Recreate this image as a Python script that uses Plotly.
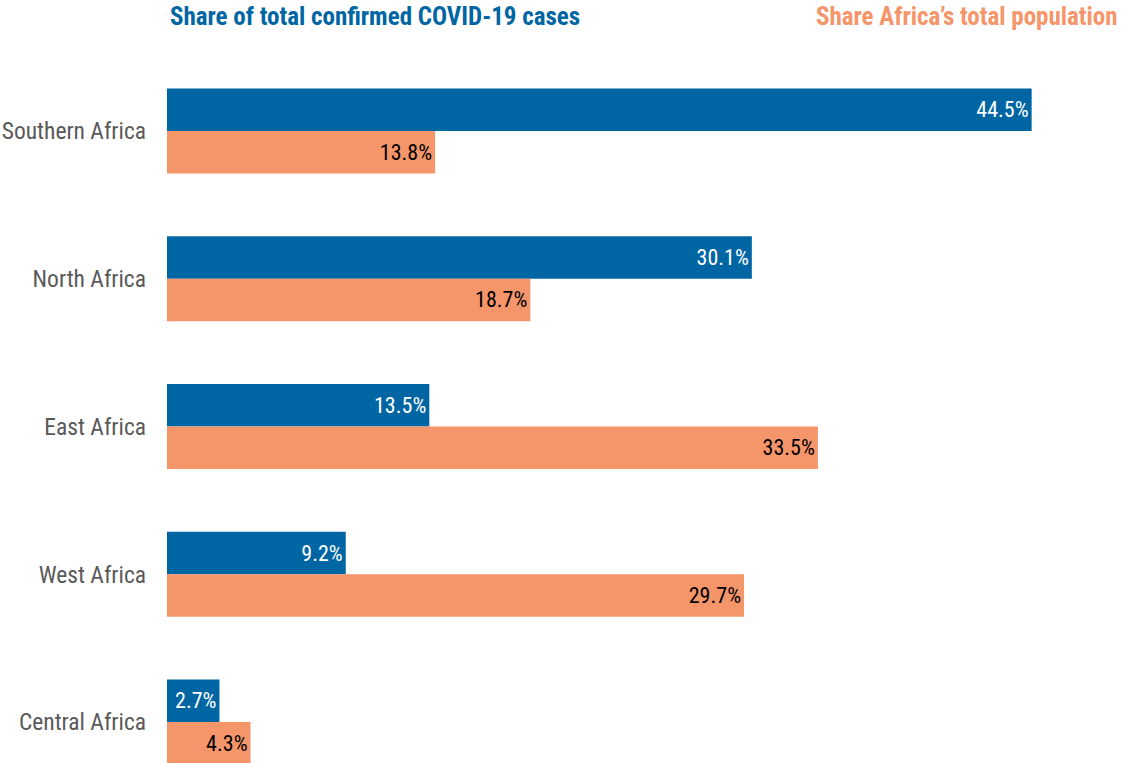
import plotly.graph_objects as go

regions = ["Southern Africa", "North Africa", "East Africa", "West Africa", "Central Africa"]
covid_share = [44.5, 30.1, 13.5, 9.2, 2.7]
pop_share = [13.8, 18.7, 33.5, 29.7, 4.3]
series_names = ["Share of total confirmed COVID-19 cases", "Share Africa\u2019s total population"]

BLUE = "#0066A3"
ORANGE = "#F5956A"
FONT = "Liberation Sans Narrow, Arial Narrow, Roboto Condensed, sans-serif"

W, H = 1122, 763
L, R, T, B = 167, 13, 57, 0
plot_w = W - L - R
plot_h = H - T - B
px_per_unit = 19.43
xmax = plot_w / px_per_unit

fig = go.Figure()
fig.add_trace(go.Bar(
    y=regions, x=covid_share, orientation="h", name=series_names[0],
    marker=dict(color=BLUE, line=dict(width=0)),
    text=[f"{v:.1f}%" for v in covid_share], textposition="inside",
    insidetextanchor="end", constraintext="none",
    textfont=dict(color="white", size=22, family=FONT),
    hoverinfo="skip",
))
fig.add_trace(go.Bar(
    y=regions, x=pop_share, orientation="h", name=series_names[1],
    marker=dict(color=ORANGE, line=dict(width=0)),
    text=[f"{v:.1f}%" for v in pop_share], textposition="inside",
    insidetextanchor="end", constraintext="none",
    textfont=dict(color="black", size=22, family=FONT),
    hoverinfo="skip",
))

title_y = 1 + 41 / plot_h
fig.update_layout(
    width=W, height=H,
    margin=dict(l=L, r=R, t=T, b=B, pad=0),
    barmode="group", bargap=0.425, bargroupgap=0,
    plot_bgcolor="white", paper_bgcolor="white",
    showlegend=False,
    font=dict(family=FONT),
    xaxis=dict(range=[0, xmax], visible=False, fixedrange=True),
    yaxis=dict(
        type="category", categoryorder="array", categoryarray=regions,
        range=[4.277, -0.5], showgrid=False, zeroline=False, showline=False,
        ticks="", ticklabelstandoff=20,
        tickfont=dict(size=23.5, color="#595959", family=FONT),
        fixedrange=True,
    ),
    annotations=[
        dict(text=f"<b>{series_names[0]}</b>", xref="paper", yref="paper",
             x=1 / plot_w, y=title_y, xanchor="left", yanchor="middle",
             showarrow=False, font=dict(size=25, color=BLUE, family=FONT)),
        dict(text=f"<b>{series_names[1]}</b>", xref="paper", yref="paper",
             x=(1120 - L) / plot_w, y=title_y, xanchor="right", yanchor="middle",
             showarrow=False, font=dict(size=25, color=ORANGE, family=FONT)),
    ],
)

fig.write_html(
    "out.html",
    config={"displayModeBar": False, "staticPlot": True},
    post_script="document.body.style.margin='0px';",
)
